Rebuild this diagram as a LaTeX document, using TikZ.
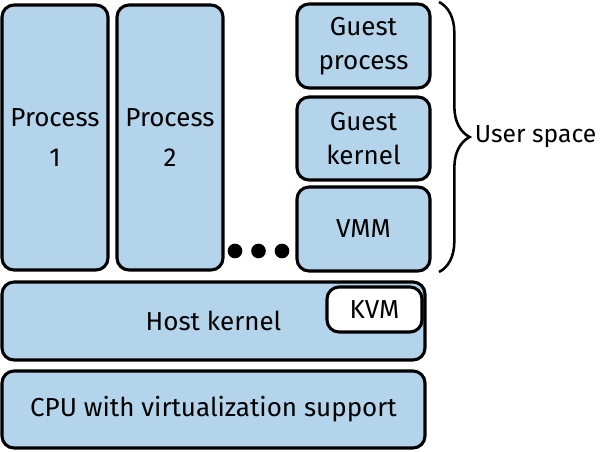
\documentclass[tikz,border=0pt]{standalone}
\usepackage{fontspec}
\setmainfont{Fira Sans}
\usepackage{tikz}
\usetikzlibrary{calc,positioning,decorations.pathreplacing}
\definecolor{boxblue}{RGB}{179,212,234}
\tikzstyle{layer}  = [draw=black, line width=2.3pt, rounded corners=9pt, fill=boxblue, align=center, inner sep=0pt, font=\fontsize{19.5}{25.5}\selectfont]
\tikzstyle{kvmbox} = [draw=black, line width=2.3pt, rounded corners=9pt, fill=white, inner sep=0pt, font=\fontsize{19.5}{25.5}\selectfont]
\tikzstyle{dot}    = [circle, fill=black, minimum size=11pt, inner sep=0pt]

\begin{document}
\begin{tikzpicture}[x=0.75pt,y=-0.75pt]
        \useasboundingbox (0,0) rectangle (600,451);

        \node[layer, minimum width=79.5pt, minimum height=198.75pt] (proc1) at (55,137.5) {Process\\[4.5pt]1};
        \node[layer, minimum width=79.5pt, minimum height=198.75pt] (proc2) at (170,137.5) {Process\\[4.5pt]2};

        \node[dot] (dot1) at (235,251) {};
        \node[dot] (dot2) at (258.5,251) {};
        \node[dot] (dot3) at (282,251) {};

        \node[layer, minimum width=99.75pt, minimum height=63pt] (gproc) at (363.5,46) {Guest\\process};
        \node[layer, minimum width=99.75pt, minimum height=62.25pt] (gkern) at (363.5,138.5) {Guest\\kernel};
        \node[layer, minimum width=99.75pt, minimum height=63pt] (vmm) at (363.5,229) {VMM};

        \node[layer, minimum width=317.25pt, minimum height=58.5pt] (host) at (213.5,321) {Host kernel};
        \node[kvmbox, minimum width=71.25pt, minimum height=33.75pt] (kvm) at (374.5,309.5) {KVM};

        \node[layer, minimum width=317.25pt, minimum height=57.75pt] (cpu) at (213.5,409.5) {CPU with virtualization support};

        \coordinate (btop) at (439,2);
        \coordinate (bbot) at (439,272);
        \draw[line width=1.9pt, decorate, decoration={brace, amplitude=23pt}] (btop) -- (bbot)
            node[midway, right=26pt, font=\fontsize{18.5}{24}\selectfont, inner sep=0pt] (user) {User space};
    \end{tikzpicture}
\end{document}
